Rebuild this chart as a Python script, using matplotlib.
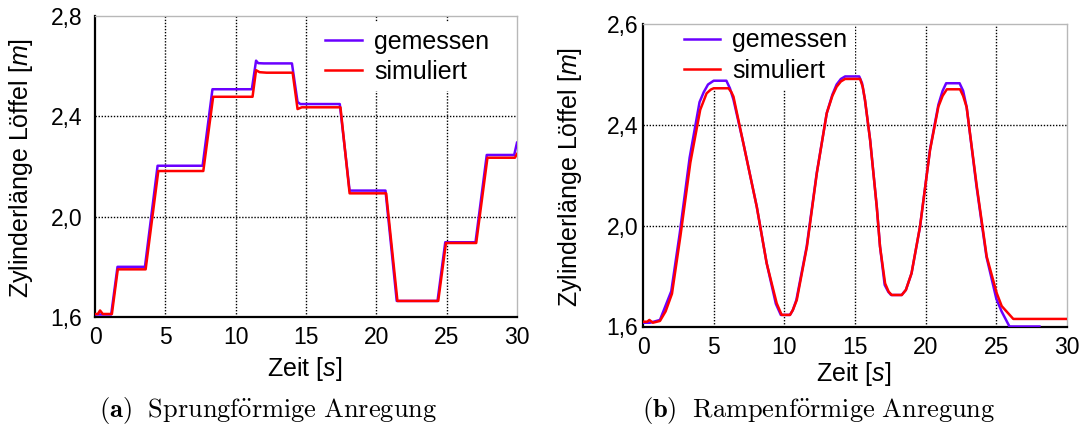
import numpy as np
import matplotlib.pyplot as plt

plt.rcParams['font.family'] = ['Liberation Sans', 'DejaVu Sans']
plt.rcParams['mathtext.fontset'] = 'custom'
plt.rcParams['mathtext.rm'] = 'Liberation Sans'
plt.rcParams['mathtext.it'] = 'Liberation Sans:italic'

# (a) Sprungfoermige Anregung
STEP_T_MEAS = [0, 0.3, 1.15, 1.6, 3.55, 4.45, 7.65, 8.35, 11.15, 11.45, 11.6, 12.0, 14.0, 14.4,
               14.6, 17.4, 18.1, 20.65, 21.45, 24.35, 24.9, 27.05, 27.85, 29.8, 30]
STEP_Y_MEAS = [1.61, 1.61, 1.61, 1.80, 1.80, 2.203, 2.203, 2.508, 2.508, 2.622, 2.612, 2.611, 2.611, 2.457,
               2.449, 2.449, 2.104, 2.104, 1.664, 1.664, 1.898, 1.898, 2.246, 2.246, 2.295]
STEP_T_SIM = [0, 0.2, 0.36, 0.55, 1.2, 1.62, 3.6, 4.5, 7.7, 8.4, 11.2, 11.45, 11.7, 12.2, 14.05,
              14.4, 14.7, 17.45, 18.1, 20.7, 21.5, 24.4, 24.95, 27.1, 27.9, 29.85, 30]
STEP_Y_SIM = [1.612, 1.612, 1.626, 1.612, 1.612, 1.790, 1.790, 2.182, 2.182, 2.478, 2.478, 2.584, 2.576, 2.574, 2.574,
              2.429, 2.436, 2.436, 2.093, 2.093, 1.664, 1.664, 1.895, 1.895, 2.235, 2.235, 2.25]

# (b) Rampenfoermige Anregung
RAMP_T_MEAS = [0, 0.5, 1.2, 2.0, 2.6, 3.3, 4.0, 4.3, 4.6, 5.0, 5.9, 6.15, 6.4, 7.1, 8.05, 8.75, 9.4,
               9.75, 10.4, 10.6, 10.85, 11.58, 12.29, 13.0, 13.4, 13.7, 14.0, 14.3, 15.3, 15.5, 15.7,
               16.07, 16.54, 16.77, 17.1, 17.35, 17.55, 18.3, 18.6, 19.0, 19.6, 20.3, 20.9, 21.2,
               21.45, 22.4, 22.65, 22.9, 23.6, 24.3, 25.0, 25.38, 25.93, 28.05]
RAMP_Y_MEAS = [1.615, 1.615, 1.626, 1.74, 1.97, 2.27, 2.49, 2.53, 2.56, 2.575, 2.575, 2.545, 2.50,
               2.327, 2.075, 1.851, 1.69, 1.646, 1.646, 1.665, 1.705, 1.917, 2.208, 2.446, 2.52, 2.56,
               2.582, 2.592, 2.592, 2.565, 2.50, 2.34, 2.075, 1.917, 1.765, 1.738, 1.725, 1.725, 1.745,
               1.811, 1.996, 2.30, 2.48, 2.535, 2.565, 2.565, 2.535, 2.47, 2.155, 1.877, 1.71, 1.659,
               1.60, 1.60]
RAMP_T_SIM = [0, 0.3, 0.45, 0.7, 1.2, 1.6, 2.05, 2.65, 3.35, 4.05, 4.5, 4.8, 5.0, 6.05, 6.25, 6.4,
              7.1, 8.05, 8.75, 9.46, 9.81, 10.4, 10.6, 10.88, 11.6, 12.3, 13.0, 13.4, 13.7, 14.0,
              14.3, 15.36, 15.55, 15.71, 16.07, 16.54, 16.77, 17.13, 17.38, 17.6, 18.31, 18.6, 19.0,
              19.6, 20.31, 20.9, 21.2, 21.5, 22.43, 22.65, 22.9, 23.62, 24.32, 25.03, 25.38, 26.2, 30]
RAMP_Y_SIM = [1.619, 1.619, 1.626, 1.615, 1.622, 1.66, 1.73, 1.96, 2.25, 2.46, 2.525, 2.54, 2.545,
              2.545, 2.53, 2.512, 2.327, 2.075, 1.851, 1.692, 1.646, 1.646, 1.665, 1.705, 1.917, 2.208,
              2.446, 2.515, 2.551, 2.572, 2.582, 2.582, 2.55, 2.498, 2.34, 2.075, 1.917, 1.771, 1.738,
              1.725, 1.725, 1.745, 1.811, 1.996, 2.30, 2.472, 2.515, 2.541, 2.541, 2.515, 2.47, 2.155,
              1.877, 1.732, 1.681, 1.63, 1.63]

X_TICKS = [0, 5, 10, 15, 20, 25, 30]
Y_TICKS = [1.6, 2.0, 2.4, 2.8]
Y_LABELS_A = ['1,6', '2,0', '2,4', '2,8']
Y_LABELS_B = ['1,6', '2,0', '2,4', '2,6']

SERIES = ['gemessen', 'simuliert']
COLORS = ['#6a00ff', '#ff0000']

W, H = 1087, 428


def px_box(x0, y0, x1, y1):
    return [x0 / W, 1 - y1 / H, (x1 - x0) / W, (y1 - y0) / H]


def style_axes(ax, ylabels, ypad, xpad):
    ax.set_xlim(0, 30)
    ax.set_ylim(1.6, 2.8)
    ax.set_xticks(X_TICKS)
    ax.set_xticklabels([str(x) for x in X_TICKS])
    ax.set_yticks(Y_TICKS)
    ax.set_yticklabels(ylabels)
    ax.tick_params(axis='both', length=0, labelsize=16.5)
    ax.tick_params(axis='y', pad=ypad)
    ax.tick_params(axis='x', pad=xpad)
    for x in X_TICKS[1:-1]:
        ax.axvline(x, color='black', lw=1.0, ls=(0, (1, 1.2)), zorder=0.5)
    for y in Y_TICKS[1:-1]:
        ax.axhline(y, color='black', lw=1.0, ls=(0, (1, 1.2)), zorder=0.5)
    for side in ['left', 'bottom']:
        ax.spines[side].set_color('black')
        ax.spines[side].set_linewidth(1.6)
    for side in ['top', 'right']:
        ax.spines[side].set_color('#b8b8b8')
        ax.spines[side].set_linewidth(1.0)


def draw_panel(fig, box, t_meas, y_meas, t_sim, y_sim, ylabels, ypad, xpad, leg_xy):
    ax = fig.add_axes(box)
    ax.plot(t_meas, y_meas, color=COLORS[0], lw=1.8, label=SERIES[0], zorder=3,
            solid_joinstyle='round')
    ax.plot(t_sim, y_sim, color=COLORS[1], lw=1.8, label=SERIES[1], zorder=4,
            solid_joinstyle='round')
    style_axes(ax, ylabels, ypad, xpad)
    leg = ax.legend(loc='upper left', bbox_to_anchor=(leg_xy[0] / W, 1 - leg_xy[1] / H),
                    bbox_transform=fig.transFigure, fontsize=18, frameon=True, facecolor='white',
                    edgecolor='none', framealpha=1, fancybox=False, borderpad=0.3, borderaxespad=0,
                    handlelength=1.45, handletextpad=0.5, labelspacing=0.25)
    # white legend box hides the grid but not the curves
    leg.set_zorder(2)
    return ax


def main():
    fig = plt.figure(figsize=(W / 100, H / 100), dpi=100)

    draw_panel(fig, px_box(95, 16, 517, 317), STEP_T_MEAS, STEP_Y_MEAS, STEP_T_SIM, STEP_Y_SIM,
               Y_LABELS_A, 9, 6.5, (318, 22))
    draw_panel(fig, px_box(643, 24, 1067, 326.5), RAMP_T_MEAS, RAMP_Y_MEAS, RAMP_T_SIM, RAMP_Y_SIM,
               Y_LABELS_B, 3.5, 6.5, (676, 21))

    ylabel = r'Zylinderlänge Löffel [$m$]'
    xlabel = r'Zeit [$s$]'
    fig.text(20.8 / W, 1 - 168 / H, ylabel, rotation=90, ha='center', va='center', fontsize=18)
    fig.text(569.5 / W, 1 - 177 / H, ylabel, rotation=90, ha='center', va='center', fontsize=18)
    fig.text(304.5 / W, 1 - 369 / H, xlabel, ha='center', va='center', fontsize=18)
    fig.text(853.5 / W, 1 - 373.5 / H, xlabel, ha='center', va='center', fontsize=18)

    fig.text(268.5 / W, 1 - 411 / H, r'$\mathbf{(a)}\ \ \mathrm{Sprungf\ddot{o}rmige\ Anregung}$',
             ha='center', va='center', fontsize=19, math_fontfamily='cm')
    fig.text(819 / W, 1 - 411 / H, r'$\mathbf{(b)}\ \ \mathrm{Rampenf\ddot{o}rmige\ Anregung}$',
             ha='center', va='center', fontsize=19, math_fontfamily='cm')

    fig.savefig('out.png', dpi=100)
    plt.close(fig)


if __name__ == '__main__':
    main()
